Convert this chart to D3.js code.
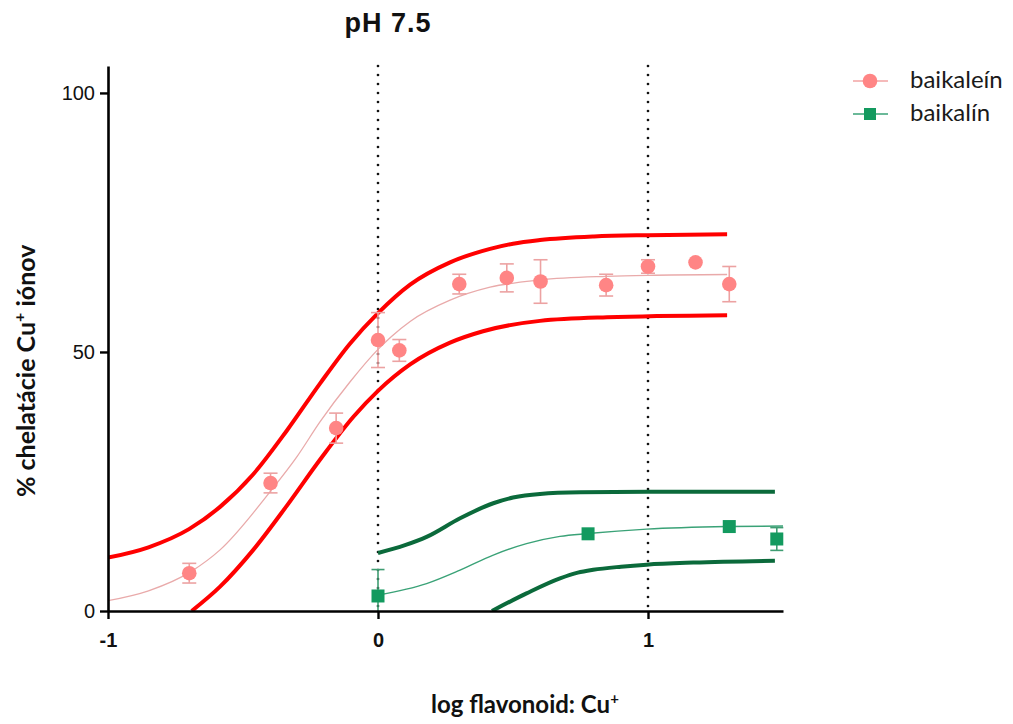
<!DOCTYPE html>
<html>
<head>
<meta charset="utf-8">
<script src="https://cdn.jsdelivr.net/npm/d3@7"></script>
<style>
  body { margin: 0; background: #fff; }
  svg { display: block; }
</style>
</head>
<body>
<svg id="chart" width="1013" height="724"></svg>
<script>
// Measured points: baikalein (log ratio, % chelation, SEM)
const baikaleinX   = [-0.699, -0.398, -0.155, 0, 0.079, 0.301, 0.477, 0.602, 0.845, 1.0, 1.176, 1.301];
const baikaleinY   = [7.3, 24.7, 35.3, 52.3, 50.3, 63.1, 64.3, 63.6, 62.9, 66.5, 67.3, 63.1];
const baikaleinErr = [1.9, 1.9, 2.9, 5.3, 2.1, 1.9, 2.7, 4.2, 2.1, 1.3, 0, 3.4];

// Measured points: baikalin
const baikalinX   = [0, 0.778, 1.301, 1.477];
const baikalinY   = [2.9, 14.9, 16.3, 13.9];
const baikalinErr = [5.1, 0, 0, 2.2];

// Fitted dose-response curve for baikalein and its confidence band
const baikaleinFitX = [-1, -0.85, -0.69, -0.585, -0.4, -0.3, -0.215, -0.104, 0, 0.05, 0.119, 0.267, 0.415, 0.6, 0.848, 1.0, 1.293];
const baikaleinFitY = [2.0, 3.9, 7.7, 11.8, 23.0, 29.8, 36.5, 44.2, 50.5, 53.0, 55.9, 60.0, 62.5, 63.9, 64.6, 64.8, 64.95];
const baikaleinUpX = [-1, -0.85, -0.7, -0.585, -0.462, -0.338, -0.215, -0.104, 0, 0.119, 0.267, 0.415, 0.5, 0.6, 0.8, 1.0, 1.293];
const baikaleinUpY = [10.3, 12.3, 15.8, 20.1, 26.4, 34.8, 43.9, 51.6, 57.5, 63.0, 67.3, 69.9, 70.9, 71.6, 72.3, 72.55, 72.7];
const baikaleinLoX = [-0.69, -0.585, -0.462, -0.338, -0.215, -0.091, 0, 0.119, 0.267, 0.389, 0.6, 0.848, 1.293];
const baikaleinLoY = [0, 4.7, 11.8, 20.3, 29.2, 37.5, 42.5, 47.6, 51.8, 54.0, 56.0, 56.7, 57.1];

// Fitted curve for baikalin and its confidence band
const baikalinFitX = [0, 0.18, 0.304, 0.427, 0.55, 0.674, 0.778, 0.995, 1.296, 1.5];
const baikalinFitY = [3.1, 5.3, 7.9, 10.8, 13.0, 14.4, 14.95, 15.8, 16.3, 16.4];
const baikalinUpX = [0, 0.1, 0.18, 0.304, 0.427, 0.5, 0.6, 0.75, 1.0, 1.47];
const baikalinUpY = [11.2, 12.7, 14.3, 17.9, 20.8, 21.9, 22.6, 22.9, 23.0, 23.0];
const baikalinLoX = [0.422, 0.55, 0.674, 0.74, 0.797, 0.9, 0.995, 1.168, 1.47];
const baikalinLoY = [0, 3.4, 6.3, 7.4, 7.95, 8.55, 8.95, 9.35, 9.7];

// Axis ticks and reference lines
const xTicks = [-1, 0, 1];
const yTicks = [0, 50, 100];
const refLines = [0, 1];

const seriesNames = ["baikaleín", "baikalín"];

const svg = d3.select("#chart");
svg.append("rect").attr("width", 1013).attr("height", 724).attr("fill", "#fff");

const x = d3.scaleLinear().domain([-1, 1.5]).range([108, 783]);
const y = d3.scaleLinear().domain([0, 105.2]).range([611, 66]);

const zip = (xs, ys) => xs.map((v, i) => [v, ys[i]]);

svg.append("clipPath").attr("id", "plot")
  .append("rect")
  .attr("x", x(-1)).attr("y", y(105.2))
  .attr("width", x(1.5) - x(-1) + 2).attr("height", y(0) - y(105.2));

// dotted reference lines
svg.selectAll(".ref").data(refLines).join("line")
  .attr("x1", d => x(d)).attr("x2", d => x(d))
  .attr("y1", y(105.2)).attr("y2", y(0))
  .attr("stroke", "#111").attr("stroke-width", 2.7)
  .attr("stroke-linecap", "round").attr("stroke-dasharray", "0,9");

const line = d3.line().x(d => x(d[0])).y(d => y(d[1])).curve(d3.curveMonotoneX);
const curves = svg.append("g").attr("clip-path", "url(#plot)");

const curveDefs = [
  { pts: zip(baikaleinUpX, baikaleinUpY), color: "#ff0000", w: 4 },
  { pts: zip(baikaleinLoX, baikaleinLoY), color: "#ff0000", w: 4 },
  { pts: zip(baikaleinFitX, baikaleinFitY), color: "#e9aaaa", w: 1.3 },
  { pts: zip(baikalinUpX, baikalinUpY), color: "#0b6a3b", w: 4 },
  { pts: zip(baikalinLoX, baikalinLoY), color: "#0b6a3b", w: 4 },
  { pts: zip(baikalinFitX, baikalinFitY), color: "#3aa277", w: 1.4 }
];
curves.selectAll("path").data(curveDefs).join("path")
  .attr("d", d => line(d.pts))
  .attr("fill", "none")
  .attr("stroke", d => d.color)
  .attr("stroke-width", d => d.w)
  .attr("stroke-linecap", "butt");

// error bars
function errorBars(xs, ys, es, color, cap) {
  const g = svg.append("g").attr("clip-path", "url(#plot)")
    .attr("stroke", color).attr("stroke-width", 1.6).attr("fill", "none");
  xs.forEach((xv, i) => {
    const e = es[i];
    if (!e) return;
    const cx = x(xv), top = y(ys[i] + e), bot = y(ys[i] - e);
    g.append("line").attr("x1", cx).attr("x2", cx).attr("y1", top).attr("y2", bot);
    g.append("line").attr("x1", cx - cap).attr("x2", cx + cap).attr("y1", top).attr("y2", top);
    g.append("line").attr("x1", cx - cap).attr("x2", cx + cap).attr("y1", bot).attr("y2", bot);
  });
}
errorBars(baikaleinX, baikaleinY, baikaleinErr, "#eca2a2", 7);
errorBars(baikalinX, baikalinY, baikalinErr, "#3f9d72", 6.5);

// markers
const pinkFill = "#ff8585", greenFill = "#139a5f";
svg.append("g").selectAll("circle").data(zip(baikaleinX, baikaleinY)).join("circle")
  .attr("cx", d => x(d[0])).attr("cy", d => y(d[1])).attr("r", 7.3)
  .attr("fill", pinkFill);
svg.append("g").selectAll("rect").data(zip(baikalinX, baikalinY)).join("rect")
  .attr("x", d => x(d[0]) - 6.5).attr("y", d => y(d[1]) - 6.5)
  .attr("width", 13).attr("height", 13).attr("fill", greenFill);

// axes
const yAxis = svg.append("g").attr("transform", `translate(${x(-1)},0)`)
  .call(d3.axisLeft(y).tickValues(yTicks).tickSize(8).tickSizeOuter(0).tickPadding(5).tickFormat(d3.format("d")));
const xAxis = svg.append("g").attr("transform", `translate(0,${y(0)})`)
  .call(d3.axisBottom(x).tickValues(xTicks).tickSize(8).tickSizeOuter(0).tickPadding(14).tickFormat(d => String(d)));
[yAxis, xAxis].forEach(a => {
  a.select(".domain").attr("stroke", "#000").attr("stroke-width", 2.6);
  a.selectAll(".tick line").attr("stroke", "#000").attr("stroke-width", 2.4);
  a.selectAll(".tick text").attr("fill", "#111")
    .style("font-family", "'Liberation Sans', Arial, sans-serif").style("font-size", "20px");
});
xAxis.selectAll(".tick text").style("font-weight", "bold");

// title
svg.append("text").attr("x", 388).attr("y", 32).attr("text-anchor", "middle")
  .style("font-family", "'Liberation Sans', Arial, sans-serif").style("font-size", "27px")
  .style("font-weight", "bold").style("letter-spacing", "1px").attr("fill", "#111")
  .text("pH 7.5");

// axis titles
const lab = "Lato, 'Open Sans', sans-serif";
const xt = svg.append("text").attr("x", 431).attr("y", 713).attr("text-anchor", "start")
  .style("font-family", lab).style("font-size", "24px").style("font-weight", "bold").attr("fill", "#111");
xt.append("tspan").text("log flavonoid: Cu");
xt.append("tspan").attr("dy", -9).style("font-size", "15px").text("+");

const yt = svg.append("text").attr("transform", "translate(35,497) rotate(-90)").attr("text-anchor", "start")
  .style("font-family", lab).style("font-size", "25px").style("font-weight", "bold").attr("fill", "#111");
yt.append("tspan").text("% chelatácie Cu");
yt.append("tspan").attr("dy", -10).style("font-size", "16px").text("+");
yt.append("tspan").attr("dy", 10).text(" iónov");

// legend
const legend = svg.append("g");
const rows = [
  { name: seriesNames[0], line: "#f2a3a3", fill: pinkFill, shape: "circle", yy: 81 },
  { name: seriesNames[1], line: "#3aa277", fill: greenFill, shape: "square", yy: 114 }
];
rows.forEach(r => {
  legend.append("line").attr("x1", 853).attr("x2", 888).attr("y1", r.yy).attr("y2", r.yy)
    .attr("stroke", r.line).attr("stroke-width", 1.5);
  if (r.shape === "circle") {
    legend.append("circle").attr("cx", 870).attr("cy", r.yy).attr("r", 7.3).attr("fill", r.fill);
  } else {
    legend.append("rect").attr("x", 864).attr("y", r.yy - 6).attr("width", 12).attr("height", 12).attr("fill", r.fill);
  }
  legend.append("text").attr("x", 910).attr("y", r.yy + 7)
    .style("font-family", lab).style("font-size", "24px").attr("fill", "#1a1a1a")
    .text(r.name);
});
</script>
</body>
</html>
